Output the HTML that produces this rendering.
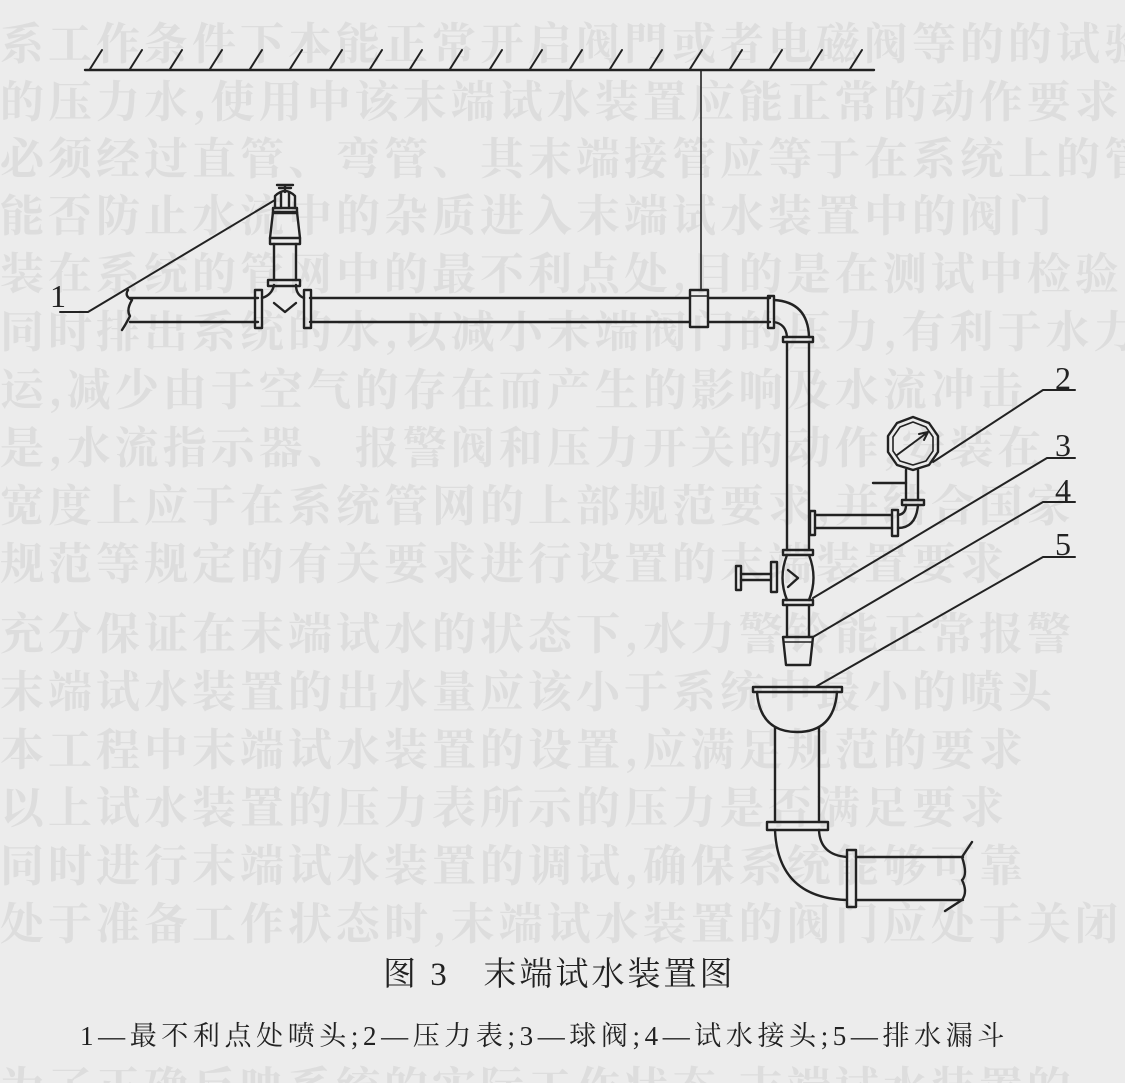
<!DOCTYPE html>
<html><head><meta charset="utf-8"><style>
html,body{margin:0;padding:0;background:#ebebeb;}
#w{position:relative;width:1125px;height:1083px;overflow:hidden;background:#ececec;}
.g{position:absolute;left:0;width:1125px;font-family:"Noto Serif CJK SC",serif;font-size:44px;font-weight:bold;color:#dddddd;white-space:nowrap;letter-spacing:4px;}
svg{position:absolute;left:0;top:0;}
</style></head><body><div id="w">
<div class="g" style="top:8px">系工作条件下本能正常开启阀門或者电磁阀等的的试验装置</div>
<div class="g" style="top:66px">的压力水,使用中该末端试水装置应能正常的动作要求</div>
<div class="g" style="top:123px">必须经过直管、弯管、其末端接管应等于在系统上的管</div>
<div class="g" style="top:180px">能否防止水流中的杂质进入末端试水装置中的阀门</div>
<div class="g" style="top:238px">装在系统的管网中的最不利点处,目的是在测试中检验</div>
<div class="g" style="top:296px">同时排出系统的水,以减小末端阀门的压力,有利于水力警铃</div>
<div class="g" style="top:354px">运,减少由于空气的存在而产生的影响及水流冲击</div>
<div class="g" style="top:412px">是,水流指示器、报警阀和压力开关的动作,安装在</div>
<div class="g" style="top:470px">宽度上应于在系统管网的上部规范要求,并结合国家</div>
<div class="g" style="top:528px">规范等规定的有关要求进行设置的末端装置要求</div>
<div class="g" style="top:598px">充分保证在末端试水的状态下,水力警铃能正常报警</div>
<div class="g" style="top:656px">末端试水装置的出水量应该小于系统中最小的喷头</div>
<div class="g" style="top:714px">本工程中末端试水装置的设置,应满足规范的要求</div>
<div class="g" style="top:772px">以上试水装置的压力表所示的压力是否满足要求</div>
<div class="g" style="top:830px">同时进行末端试水装置的调试,确保系统能够可靠</div>
<div class="g" style="top:888px">处于准备工作状态时,末端试水装置的阀门应处于关闭</div>
<div class="g" style="top:1052px">为了正确反映系统的实际工作状态,末端试水装置的</div>
<svg width="1125" height="1083" viewBox="0 0 1125 1083" fill="none" stroke="#222" stroke-width="2.4" stroke-linecap="round" stroke-linejoin="round">
<line x1="85" y1="70" x2="874" y2="70"/>
<g stroke-width="2">
<path d="M90 69 L102 50 M130 69 L142 50 M170 69 L182 50 M210 69 L222 50 M250 69 L262 50 M290 69 L302 50 M330 69 L342 50 M370 69 L382 50 M410 69 L422 50 M450 69 L462 50 M490 69 L502 50 M530 69 L542 50 M570 69 L582 50 M610 69 L622 50 M650 69 L662 50 M690 69 L702 50 M730 69 L742 50 M770 69 L782 50 M810 69 L822 50 M850 69 L862 50"/>
</g>
<line x1="701" y1="70" x2="701" y2="290" stroke-width="1.6"/>
<path d="M130 298 L258 298 M310 298 L690 298 M708 298 L770 298"/>
<path d="M130 322 L258 322 M310 322 L690 322 M708 322 L770 322"/>
<path d="M128 290 Q124 296 132 300 Q126 310 130 316 Q126 324 122 330"/>
<rect x="255" y="290" width="7" height="38"/>
<rect x="304" y="290" width="7" height="38"/>
<path d="M262 298 Q272 295 274 285 M304 298 Q296 295 296 285"/>
<path d="M274 303 L285 312 L296 303"/>
<rect x="268" y="280" width="32" height="6"/>
<path d="M274 280 L274 244 M296 280 L296 244"/>
<rect x="270" y="238" width="30" height="6"/>
<path d="M270 238 L273 212 L297 212 L300 238"/>
<rect x="273" y="208" width="24" height="5"/>
<path d="M275 208 L275 196 Q285 186 295 196 L295 208 M281 208 L281 193 M289 208 L289 193"/>
<path d="M277 185 L293 185 M285 185 L285 192 M279 188 L291 188"/>
<path d="M275 200 L88 312 L60 312" stroke-width="2"/>
<rect x="690" y="290" width="18" height="37"/>
<line x1="690" y1="296" x2="708" y2="296" stroke-width="1.6"/>
<rect x="768" y="296" width="6" height="32"/>
<path d="M774 300 Q808 302 809 337"/>
<path d="M774 322 Q786 324 787 337"/>
<rect x="783" y="337" width="30" height="5"/>
<path d="M787 342 L787 550 M809 342 L809 550"/>
<rect x="783" y="550" width="30" height="5"/>
<path d="M787 555 Q778 578 787 600 M809 555 Q818 578 809 600"/>
<path d="M788 570 L798 578 L788 587"/>
<rect x="771" y="562" width="6" height="30"/>
<path d="M771 574 L741 574 M771 580 L741 580"/>
<rect x="736" y="566" width="5" height="24"/>
<rect x="783" y="600" width="30" height="5"/>
<path d="M787 605 L787 637 M809 605 L809 637"/>
<path d="M783 637 L813 637 L810 665 L786 665 Z"/>
<line x1="784" y1="642" x2="812" y2="642" stroke-width="1.6"/>
<rect x="810" y="511" width="5" height="24"/>
<path d="M815 515 L892 515 M815 528 L892 528"/>
<rect x="892" y="510" width="6" height="26"/>
<path d="M898 515 Q906 514 906 505 M898 528 Q916 528 918 505"/>
<rect x="902" y="500" width="22" height="5"/>
<path d="M906 500 L906 470 M918 500 L918 470"/>
<line x1="873" y1="483" x2="906" y2="483"/>
<polygon points="913,417 929,423 938,436 938,452 929,465 913,470 897,465 888,452 888,436 897,423"/>
<polygon points="913,422 926,427 933,437 933,451 926,461 913,465 900,461 893,451 893,437 900,427" stroke-width="1.6"/>
<path d="M897 455 L928 432 M928 432 L919 434 M928 432 L924 440" stroke-width="2"/>
<g stroke-width="2">
<path d="M933 462 L1043 390 L1075 390"/>
<path d="M813 598 L1047 458 L1075 458"/>
<path d="M813 637 L1043 502 L1075 502"/>
<path d="M817 686 L1043 557 L1075 557"/>
</g>
<rect x="753" y="687" width="89" height="5"/>
<path d="M757 692 Q760 732 797 732 Q834 732 837 692"/>
<path d="M775 727 L775 822 M819 727 L819 822"/>
<rect x="767" y="822" width="61" height="8"/>
<path d="M775 830 Q778 898 847 900 M819 830 Q820 855 847 857"/>
<rect x="847" y="850" width="9" height="57"/>
<path d="M856 857 L963 857 M856 900 L963 900"/>
<path d="M972 842 L962 857 Q968 875 962 880 Q968 892 962 900 L945 911"/>
</svg>
<div style="position:absolute;left:0;top:0;width:1125px;height:1083px;font-family:'Liberation Serif','Noto Serif CJK SC',serif;color:#222;">
<div style="position:absolute;left:50px;top:278px;font-size:32px;">1</div>
<div style="position:absolute;left:1055px;top:360px;font-size:32px;">2</div>
<div style="position:absolute;left:1055px;top:427px;font-size:32px;">3</div>
<div style="position:absolute;left:1055px;top:472px;font-size:32px;">4</div>
<div style="position:absolute;left:1055px;top:526px;font-size:32px;">5</div>
<div style="position:absolute;left:383px;top:948px;font-size:33px;letter-spacing:3px;white-space:nowrap;">图 3&nbsp;&nbsp;&nbsp;末端试水装置图</div>
<div style="position:absolute;left:80px;top:1014px;font-size:27px;letter-spacing:4.6px;white-space:nowrap;">1—最不利点处喷头;2—压力表;3—球阀;4—试水接头;5—排水漏斗</div>
</div>
</div></body></html>
